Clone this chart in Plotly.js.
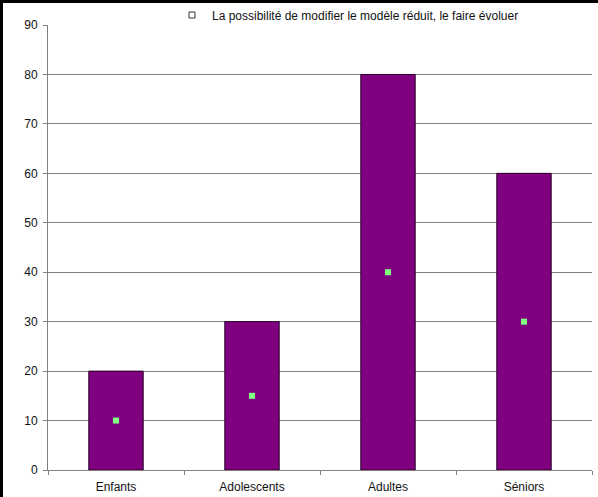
<!DOCTYPE html>
<html>
<head>
<meta charset="utf-8">
<script src="https://cdn.plot.ly/plotly-3.0.1.min.js"></script>
<style>
  html, body { margin: 0; padding: 0; background: #fff; }
  #wrap { position: absolute; left: 0; top: 0; width: 598px; height: 497px; box-sizing: border-box;
          border-top: 3px solid #000; border-left: 3px solid #000; overflow: hidden; }
  #chart { width: 595px; height: 494px; }
</style>
</head>
<body>
<div id="wrap"><div id="chart"></div></div>
<script>
// Data
const categories = ["Enfants", "Adolescents", "Adultes", "Séniors"];
const barValues = [20, 30, 80, 60];
const pointValues = [10, 15, 40, 30];
const seriesName = "La possibilité de modifier le modèle réduit, le faire évoluer";
const yTicks = [0, 10, 20, 30, 40, 50, 60, 70, 80, 90];

const font = { family: "Arial, 'Liberation Sans', sans-serif", size: 12, color: "#111" };

const traces = [
  {
    type: "bar",
    x: categories,
    y: barValues,
    marker: { color: "#800080", line: { color: "#2a002a", width: 1 } },
    showlegend: false,
    hoverinfo: "skip"
  },
  {
    type: "scatter",
    mode: "markers",
    x: categories,
    y: pointValues,
    marker: { symbol: "square", size: 6, color: "#80ff80" },
    showlegend: false,
    hoverinfo: "skip"
  },
  {
    type: "scatter",
    mode: "markers",
    x: [null],
    y: [null],
    name: seriesName,
    marker: { symbol: "square-open", size: 6, color: "#333", line: { width: 1 } },
    showlegend: true,
    hoverinfo: "skip"
  }
];

const layout = {
  width: 595,
  height: 494,
  margin: { l: 45, r: 6, t: 22, b: 27, pad: 0, autoexpand: false },
  paper_bgcolor: "#fff",
  plot_bgcolor: "#fff",
  font: font,
  bargap: 0.6,
  showlegend: true,
  legend: {
    xref: "container", yref: "container",
    x: 0.284, xanchor: "left",
    y: 0.9757, yanchor: "middle",
    bgcolor: "rgba(0,0,0,0)",
    borderwidth: 0,
    font: font
  },
  xaxis: {
    type: "category",
    showline: true, linecolor: "#808080", linewidth: 1,
    ticks: "outside", tickson: "boundaries", ticklen: 4, tickcolor: "#808080",
    ticklabelstandoff: 6,
    showgrid: false, zeroline: false,
    tickfont: font,
    range: [-0.5, 3.5]
  },
  yaxis: {
    range: [0, 90],
    tickvals: yTicks,
    ticktext: yTicks.map(String),
    showline: true, linecolor: "#808080", linewidth: 1,
    ticks: "outside", ticklen: 4, tickcolor: "#808080",
    ticklabelstandoff: 3,
    showgrid: true, gridcolor: "#808080", gridwidth: 1,
    zeroline: false,
    tickfont: font
  }
};

Plotly.newPlot("chart", traces, layout, { staticPlot: true, displayModeBar: false });
</script>
</body>
</html>
